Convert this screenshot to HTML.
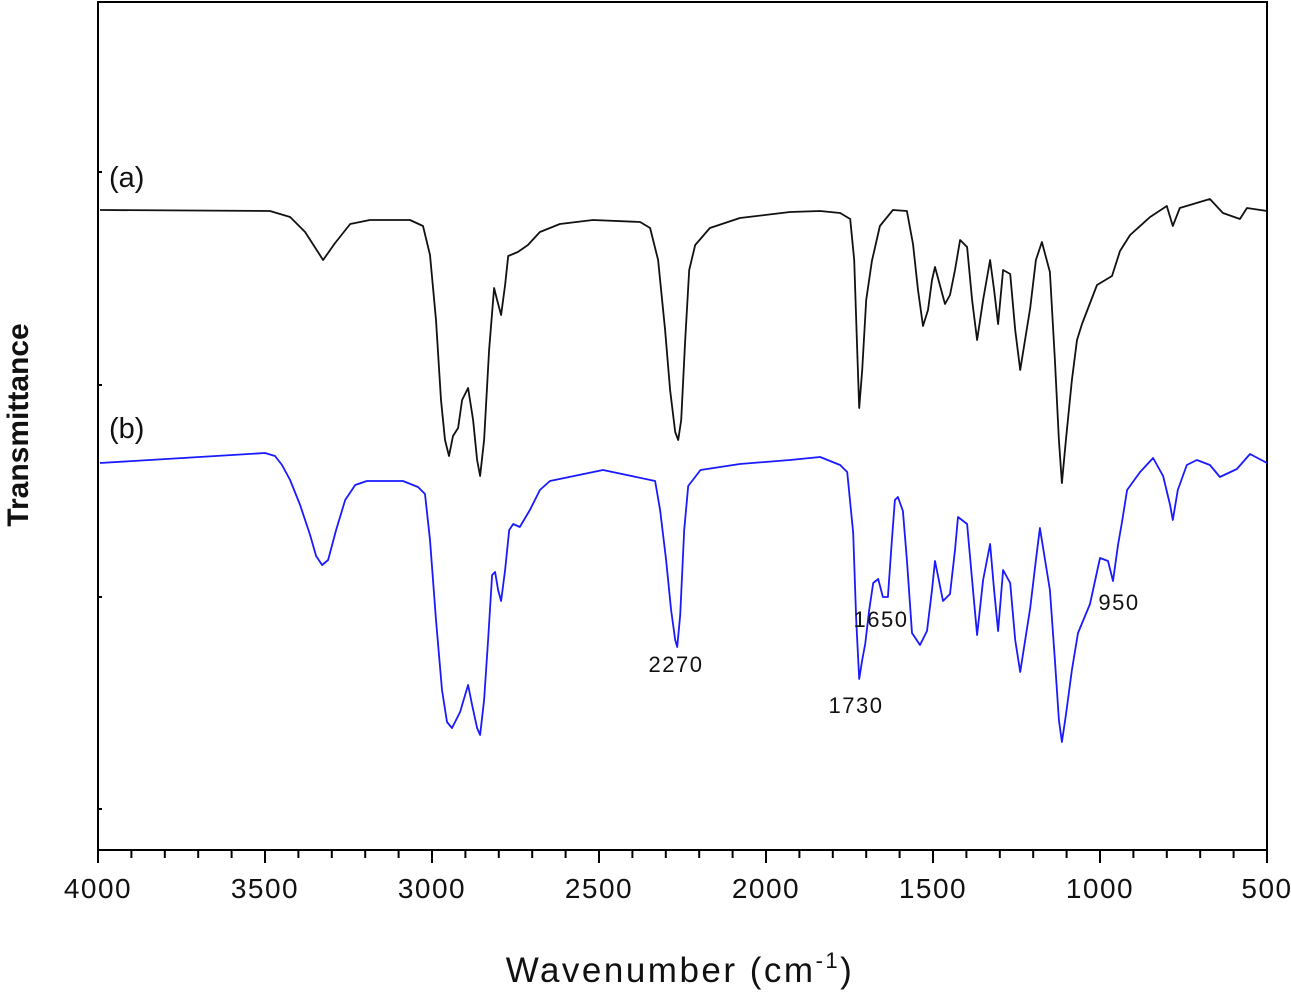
<!DOCTYPE html>
<html><head><meta charset="utf-8"><style>
html,body{margin:0;padding:0;background:#fff;}
svg{display:block;font-family:"Liberation Sans",Arial,sans-serif;}
</style></head><body>
<svg id="chart" width="1291" height="994" viewBox="0 0 1291 994" xmlns="http://www.w3.org/2000/svg">
<g id="frame-g"></g>
<g id="ticks-g"></g>
<g id="series-g"></g>
<g id="labels-g"></g>
</svg>
<script>
const xTicks=[4000,3500,3000,2500,2000,1500,1000,500];
const yTickVals=[678,465,253,41];
const wnA=[3994,3485,3425,3380,3326,3290,3245,3186,3066,3027,3006,2988,2973,2961,2949,2937,2922,2910,2892,2877,2865,2856,2844,2829,2814,2805,2793,2781,2772,2743,2713,2677,2617,2518,2377,2347,2323,2302,2287,2272,2263,2254,2242,2230,2212,2168,2078,1928,1838,1778,1748,1736,1727,1721,1712,1700,1683,1659,1620,1578,1560,1545,1530,1515,1503,1494,1464,1449,1434,1419,1398,1383,1368,1350,1329,1317,1305,1290,1269,1254,1239,1209,1192,1174,1150,1135,1123,1114,1102,1084,1069,1054,1009,964,940,910,850,800,782,761,671,632,581,560,500];
const tA=[640,639,633,618,590,607,626,630,630,624,595,530,450,410,394,414,422,450,462,430,390,374,410,500,562,550,535,565,594,598,605,618,626,630,628,622,590,520,460,418,410,430,510,580,605,622,632,638,639,637,631,590,500,442,480,550,589,624,640,639,606,560,524,540,570,583,546,555,580,610,603,550,510,550,590,560,526,580,576,520,480,542,590,608,578,490,410,367,410,470,510,526,565,574,599,615,633,644,624,642,651,637,631,642,639];
const wnB=[3994,3500,3470,3449,3425,3395,3365,3347,3329,3311,3287,3260,3230,3195,3087,3042,3021,3006,2988,2970,2955,2940,2916,2901,2892,2880,2865,2856,2844,2832,2820,2811,2802,2793,2781,2769,2757,2737,2707,2677,2647,2488,2332,2317,2299,2284,2272,2266,2257,2245,2233,2196,2078,1928,1838,1778,1757,1739,1730,1721,1712,1703,1691,1679,1664,1650,1635,1623,1614,1605,1590,1578,1563,1539,1518,1503,1494,1470,1449,1434,1425,1398,1383,1368,1350,1329,1317,1305,1290,1269,1254,1239,1209,1192,1180,1150,1135,1123,1114,1102,1084,1066,1030,1000,976,961,946,934,919,880,841,811,790,782,767,740,710,671,641,590,551,500];
const tB=[387,397,394,385,370,345,315,294,285,290,320,350,365,369,369,363,356,310,230,160,128,122,138,155,165,145,122,115,150,210,275,278,260,249,280,320,326,323,340,360,369,380,369,340,290,240,210,203,235,320,364,380,386,390,393,385,378,317,230,171,190,206,240,267,271,253,253,310,350,353,339,290,217,205,219,260,289,249,256,300,333,326,270,215,270,306,260,219,280,267,210,178,242,290,322,260,190,130,108,135,180,217,246,292,289,269,305,328,360,378,392,374,345,330,360,385,390,385,373,381,396,387];
const annotations=[["2270",676,672],["1730",856,713],["1650",881,627],["950",1119,610]];

const NS="http://www.w3.org/2000/svg";
const L=98,R=1267,T=2,B=850;
function sx(w){return L+(4000-w)*(R-L)/3500;}
function sy(v){return B-v;}
function mk(tag,attrs,parent,text){const e=document.createElementNS(NS,tag);for(const k in attrs)e.setAttribute(k,attrs[k]);if(text!==undefined)e.textContent=text;parent.appendChild(e);return e;}
const frame=document.getElementById('frame-g'),ticks=document.getElementById('ticks-g'),series=document.getElementById('series-g'),labels=document.getElementById('labels-g');
const box=mk('rect',{x:L,y:T,width:R-L,height:B-T,fill:'none',stroke:'#000','stroke-width':2},frame);


for(let w=4000;w>=500;w-=100){
  const major=(w%500===0);
  const t=mk('line',{x1:sx(w),x2:sx(w),y1:B,y2:B+(major?13:8),stroke:'#000','stroke-width':2},ticks);
  
  
}
xTicks.forEach(w=>{
  const t=mk('text',{x:sx(w),y:898,'text-anchor':'middle','font-size':28,fill:'#111','letter-spacing':1.5},ticks,String(w));
  
  
});
yTickVals.forEach(v=>{
  const t=mk('line',{x1:L,x2:L+4,y1:sy(v),y2:sy(v),stroke:'#000','stroke-width':2},ticks);
  
  
});
function path(wn,t,color,name){
  let d='';wn.forEach((w,i)=>{d+=(i?'L':'M')+sx(w).toFixed(1)+','+sy(t[i]).toFixed(1);});
  const p=mk('path',{d:d,fill:'none',stroke:color,'stroke-width':1.8,'stroke-linejoin':'round'},series);
  
  
}
path(wnA,tA,'#111','spectrum-a');
path(wnB,tB,'#1a1aff','spectrum-b');
const la=mk('text',{x:109,y:187,'font-size':29,fill:'#111'},labels,'(a)');


const lb=mk('text',{x:109,y:438,'font-size':29,fill:'#111'},labels,'(b)');


annotations.forEach(a=>{
  const t=mk('text',{x:a[1],y:a[2],'text-anchor':'middle','font-size':22,fill:'#111','letter-spacing':1.5},labels,a[0]);
  
  
});
const xt=mk('text',{x:680,y:982,'text-anchor':'middle','font-size':35,fill:'#111','letter-spacing':2.5},labels);


xt.textContent='Wavenumber (cm';
mk('tspan',{dy:-14,'font-size':22},xt,'-1');
mk('tspan',{dy:14},xt,')');
const yt=mk('text',{x:0,y:0,'text-anchor':'middle','font-size':30,'font-weight':'bold',fill:'#111',transform:'translate(28,425) rotate(-90)'},labels,'Transmittance');


</script>
</body></html>
